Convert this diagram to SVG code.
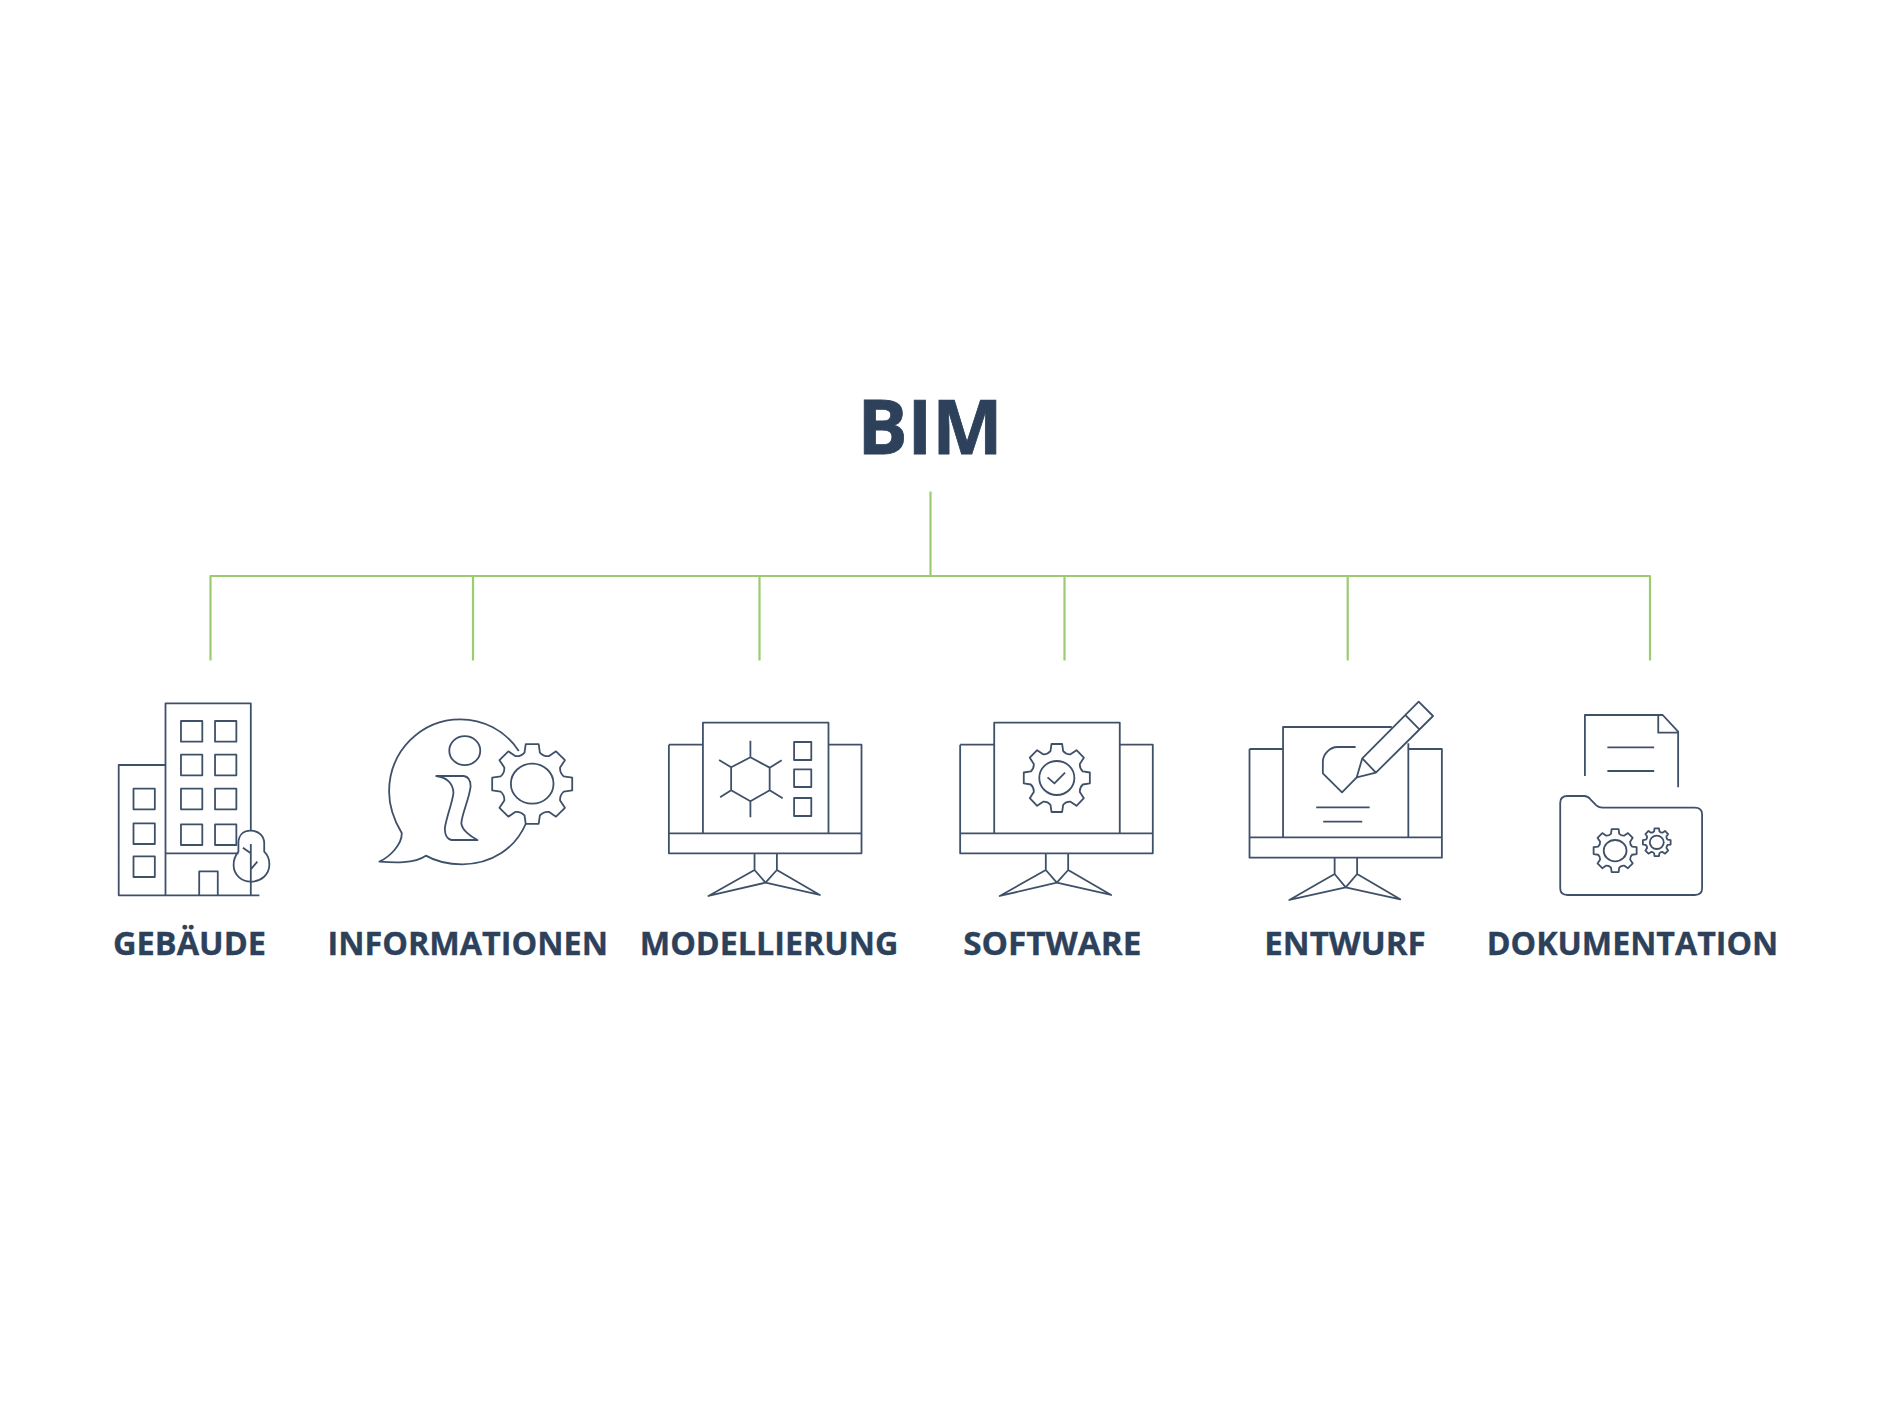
<svg xmlns="http://www.w3.org/2000/svg" xmlns:xlink="http://www.w3.org/1999/xlink" width="1890" height="1417" viewBox="0 0 1890 1417">
<style>
text{font-family:"Open Sans","Noto Sans",sans-serif;font-weight:700;fill:#2d415b;stroke:#2d415b;stroke-width:.35;text-anchor:middle}
.t{font-size:32.7px}
.c path{fill:none;stroke:#9ccb70;stroke-width:2.2;stroke-linejoin:round}
.i *,#gear,#monitor path{fill:none;stroke:#3f5069;stroke-width:1.8;vector-effect:non-scaling-stroke;stroke-linejoin:round}
</style>
<defs>
<path id="gear" d="M-19-78L-16-99H16L19-78Q28-68 41-69L59-81L81-59L69-41Q68-28 78-19L99-16V16L78 19Q68 28 69 41L81 59L59 81L41 69Q28 68 19 78L16 99H-16L-19 78Q-28 68-41 69L-59 81L-81 59L-69 41Q-68 28-78 19L-99 16V-16L-78-19Q-68-28-69-41L-81-59L-59-81L-41-69Q-28-68-19-78Z"/>
<g id="monitor"><path d="M113 194H212M577 194H673V520H113V194M113 460H673M212 460V128H577V460M362 520V570L394 608L228 648L362 570M427 520V570L394 608L552 645L427 570"/></g>
</defs>
<rect width="1890" height="1417" fill="#fff"/>
<g id="connectors" class="c">
<path d="M930.5 491.5V576"/>
<path d="M210.5 660.5V576H1650V660.5"/>
<path d="M473 576V660.5"/>
<path d="M759.5 576V660.5"/>
<path d="M1064.5 576V660.5"/>
<path d="M1347.7 576V660.5"/>
</g>
<g id="bim"><text x="930" y="454" font-size="74.6" style="stroke-width:.8">BIM</text></g>
<g id="gebaeude">
<g class="i" transform="translate(90.5 680) scale(.344 .3333)">
<path d="M218 646V70H466V452M218 255H82V646H491M218 520H430M316 646V574H370V646M466 492V646M443 503L466 520M485 545L466 568"/>
<path d="M466 452C440 452 430 470 430 490V515C422 525 416 540 416 555C416 585 440 605 466 605C495 605 520 585 520 553C520 540 515 525 505 515V490C505 470 490 452 466 452Z"/>
<rect x="263" y="123" width="62" height="62"/><rect x="362" y="123" width="62" height="62"/>
<rect x="263" y="224" width="62" height="62"/><rect x="362" y="224" width="62" height="62"/>
<rect x="263" y="326" width="62" height="62"/><rect x="362" y="326" width="62" height="62"/>
<rect x="263" y="433" width="62" height="62"/><rect x="362" y="433" width="62" height="62"/>
<rect x="125" y="326" width="62" height="62"/><rect x="125" y="430" width="62" height="62"/><rect x="125" y="529" width="62" height="62"/>
</g>
<text class="t" x="189.5" y="955" textLength="153" lengthAdjust="spacingAndGlyphs">GEBÄUDE</text>
</g>
<g id="informationen">
<g class="i" transform="translate(90.5 680) scale(.344 .3333)">
<path d="M1245 213C1205 150 1140 118 1075 118C960 118 868 215 868 335C868 385 885 425 905 460C905 495 870 530 840 545C880 548 940 552 975 527C1005 545 1040 553 1080 553C1165 553 1235 505 1265 432"/>
<ellipse cx="1088" cy="212" rx="45" ry="43.5"/>
<path d="M1005 288H1085C1100 290 1105 305 1105 320C1100 360 1080 400 1078 430C1080 450 1105 470 1125 480H1050C1035 478 1030 460 1030 445C1035 410 1050 375 1055 340C1055 310 1035 292 1005 288Z"/>
<use xlink:href="#gear" href="#gear" transform="translate(1284 312) scale(1.175 1.21)"/>
<ellipse cx="1284" cy="311" rx="62" ry="60"/>
</g>
<text class="t" x="467.7" y="955" textLength="280.5" lengthAdjust="spacingAndGlyphs">INFORMATIONEN</text>
</g>
<g id="modellierung">
<g class="i" transform="translate(630 680) scale(.344 .3333)">
<use xlink:href="#monitor" href="#monitor"/>
<path d="M350 232L406 263V331L350 364L294 331V262ZM350 232V182M406 263L441 241M406 331L444 355M350 364V412M294 331L262 352M294 262L259 240"/>
<rect x="477" y="186" width="50" height="54"/><rect x="477" y="268" width="50" height="53"/><rect x="477" y="354" width="50" height="54"/>
</g>
<text class="t" x="769" y="955" textLength="258.5" lengthAdjust="spacingAndGlyphs">MODELLIERUNG</text>
</g>
<g id="software">
<g class="i" transform="translate(630.6 680) scale(.344 .3333)">
<use xlink:href="#monitor" href="#monitor" transform="translate(845 0)"/>
<use xlink:href="#gear" href="#gear" transform="translate(1239 294) scale(.97 1.03)"/>
<ellipse cx="1239" cy="294" rx="51" ry="51"/>
<path d="M1212 292L1232 310L1263 278"/>
</g>
<text class="t" x="1052.3" y="955" textLength="178.3" lengthAdjust="spacingAndGlyphs">SOFTWARE</text>
</g>
<g id="entwurf">
<g class="i" transform="translate(1220.4 680) scale(.3685 .3333)">
<path d="M79 207H170M510 207H601V533H79V207M79 472H601M170 472V141H465M510 472V190M310 533V582L340 622L187 660L310 582M371 533V582L340 622L488 658L371 582"/>
<path d="M370 292L385 235L538 65L577 108L422 278ZM385 235L422 278M500 103L540 148"/>
<path d="M367 201H318C295 201 278 225 278 245V280L330 337L370 292"/>
<path d="M260 382H405M279 425H385"/>
</g>
<text class="t" x="1345" y="955" textLength="161.4" lengthAdjust="spacingAndGlyphs">ENTWURF</text>
</g>
<g id="dokumentation">
<g class="i" transform="translate(1221.2 680) scale(.3685 .3333)">
<path d="M987 288V105H1198L1240 155V322M1186 105V158H1240M1048 202H1175M1048 273H1175"/>
<path d="M940 348H985Q995 348 1002 358L1018 376Q1025 383 1035 383H1285Q1305 383 1305 403V625Q1305 645 1285 645H940Q920 645 920 625V368Q920 348 940 348Z"/>
<use xlink:href="#gear" href="#gear" transform="translate(1069 512) scale(.59 .65)"/>
<ellipse cx="1069" cy="512" rx="31" ry="32"/>
<use xlink:href="#gear" href="#gear" transform="translate(1182 487) scale(.38 .42)"/>
<ellipse cx="1182" cy="487" rx="19" ry="20"/>
</g>
<text class="t" x="1632.5" y="955" textLength="291.5" lengthAdjust="spacingAndGlyphs">DOKUMENTATION</text>
</g>
</svg>
